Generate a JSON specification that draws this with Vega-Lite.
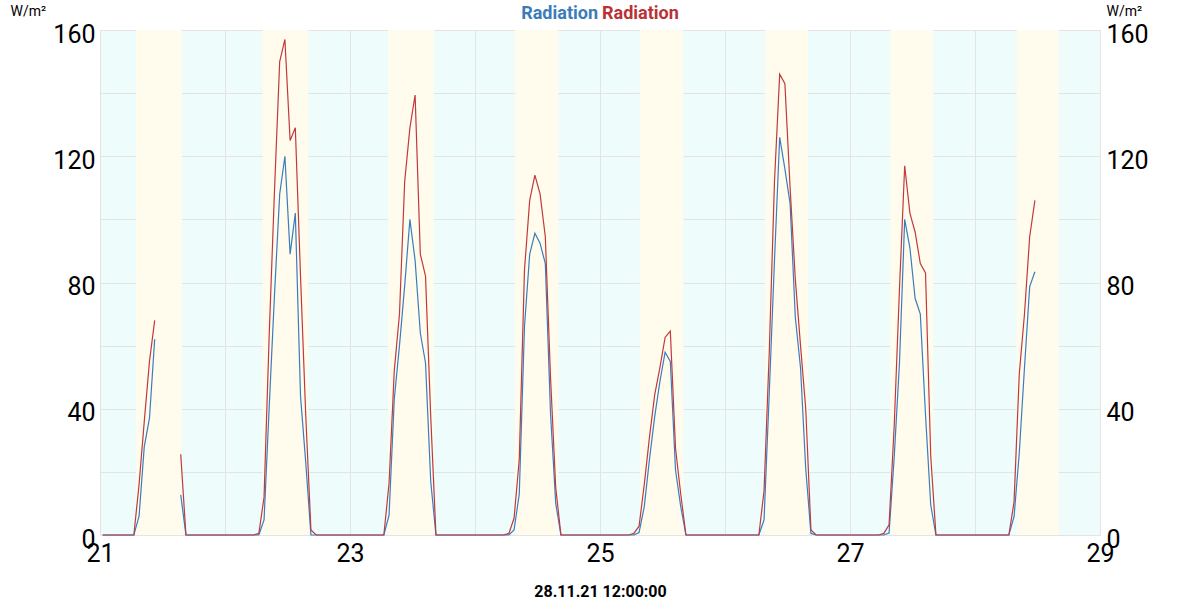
{
  "$schema": "https://vega.github.io/schema/vega-lite/v6.json",
  "width": 1000,
  "height": 505,
  "autosize": {"type": "none"},
  "padding": {"left": 100, "top": 30, "right": 100, "bottom": 65},
  "background": "white",
  "config": {
    "font": "Roboto",
    "view": {"stroke": null, "fill": "#eefcfc"},
    "axisX": {
      "format": "%d",
      "labelExpr": "date(datum.value) % 2 == 1 ? datum.label : ''",
      "grid": true, "gridColor": "#e4e4e4",
      "domain": false, "ticks": false,
      "labelFontSize": 25, "labelColor": "#000000", "labelPadding": 6,
      "labelFlush": false, "labelOverlap": false,
      "titleFontSize": 16, "titleFontWeight": "bold",
      "titleColor": "#000000", "titlePadding": 17
    }
  },
  "layer": [
    {
      "data": {"values": [
        {"rise": "2021-11-21T06:55", "set": "2021-11-21T15:45"},
        {"rise": "2021-11-22T07:15", "set": "2021-11-22T16:00"},
        {"rise": "2021-11-23T07:20", "set": "2021-11-23T16:05"},
        {"rise": "2021-11-24T07:40", "set": "2021-11-24T16:00"},
        {"rise": "2021-11-25T07:40", "set": "2021-11-25T16:00"},
        {"rise": "2021-11-26T07:40", "set": "2021-11-26T15:55"},
        {"rise": "2021-11-27T07:45", "set": "2021-11-27T16:00"},
        {"rise": "2021-11-28T08:00", "set": "2021-11-28T16:05"}
      ]},
      "mark": {"type": "rect", "color": "#fffcee"},
      "encoding": {
        "x": {
          "field": "rise", "type": "temporal",
          "scale": {"domain": [{"year": 2021, "month": 11, "date": 21}, {"year": 2021, "month": 11, "date": 29}]},
          "title": "28.11.21 12:00:00",
          "axis": {
            "values": [
              {"year": 2021, "month": 11, "date": 21}, {"year": 2021, "month": 11, "date": 22},
              {"year": 2021, "month": 11, "date": 23}, {"year": 2021, "month": 11, "date": 24},
              {"year": 2021, "month": 11, "date": 25}, {"year": 2021, "month": 11, "date": 26},
              {"year": 2021, "month": 11, "date": 27}, {"year": 2021, "month": 11, "date": 28},
              {"year": 2021, "month": 11, "date": 29}
            ]
          }
        },
        "x2": {"field": "set"}
      }
    },
    {
      "data": {"name": "rad"},
      "mark": {"type": "line", "color": "#3a7dbd", "strokeWidth": 1.2},
      "encoding": {
        "x": {"field": "t", "type": "temporal", "title": "28.11.21 12:00:00"},
        "y": {
          "field": "a", "type": "quantitative",
          "scale": {"domain": [0, 160]},
          "axis": {
            "orient": "left",
            "values": [0, 20, 40, 60, 80, 100, 120, 140, 160],
            "labelExpr": "datum.value % 40 == 0 ? datum.label : ''",
            "grid": true, "gridColor": "#e4e4e4",
            "domain": false, "ticks": false,
            "labelFontSize": 25, "labelColor": "#000000", "labelPadding": 5, "labelOffset": 4,
            "title": "W/m²", "titleAngle": 0, "titleFontSize": 14, "titleFontWeight": "normal",
            "titleColor": "#000000", "titleAlign": "left", "titleBaseline": "alphabetic",
            "titleX": -90, "titleY": -15
          }
        }
      }
    },
    {
      "data": {"name": "rad"},
      "mark": {"type": "line", "color": "#c0393e", "strokeWidth": 1.2},
      "encoding": {
        "x": {"field": "t", "type": "temporal", "title": "28.11.21 12:00:00"},
        "y": {
          "field": "b", "type": "quantitative",
          "axis": {
            "orient": "right",
            "values": [0, 20, 40, 60, 80, 100, 120, 140, 160],
            "labelExpr": "datum.value % 40 == 0 ? datum.label : ''",
            "grid": false,
            "domain": false, "ticks": false,
            "labelFontSize": 25, "labelColor": "#000000", "labelPadding": 6, "labelOffset": 4,
            "title": "W/m²", "titleAngle": 0, "titleFontSize": 14, "titleFontWeight": "normal",
            "titleColor": "#000000", "titleAlign": "left", "titleBaseline": "alphabetic",
            "titleX": 6, "titleY": -15
          }
        }
      }
    },
    {
      "data": {"values": [{"label": "Radiation"}]},
      "mark": {"type": "text", "color": "#3b7cb8", "fontSize": 18, "fontWeight": "bold", "align": "right", "baseline": "alphabetic", "dx": -2, "dy": -11},
      "encoding": {
        "x": {"datum": {"year": 2021, "month": 11, "date": 25}, "type": "temporal", "title": "28.11.21 12:00:00"},
        "y": {"datum": 160, "type": "quantitative", "axis": null},
        "text": {"field": "label"}
      }
    },
    {
      "data": {"values": [{"label": "Radiation"}]},
      "mark": {"type": "text", "color": "#b83236", "fontSize": 18, "fontWeight": "bold", "align": "left", "baseline": "alphabetic", "dx": 2, "dy": -11},
      "encoding": {
        "x": {"datum": {"year": 2021, "month": 11, "date": 25}, "type": "temporal", "title": "28.11.21 12:00:00"},
        "y": {"datum": 160, "type": "quantitative", "axis": null},
        "text": {"field": "label"}
      }
    }
  ],
  "resolve": {"axis": {"y": "independent"}},
  "datasets": {
    "rad": [
      {"t": "2021-11-21T00:30", "a": 0, "b": 0},
      {"t": "2021-11-21T01:30", "a": 0, "b": 0},
      {"t": "2021-11-21T02:30", "a": 0, "b": 0},
      {"t": "2021-11-21T03:30", "a": 0, "b": 0},
      {"t": "2021-11-21T04:30", "a": 0, "b": 0},
      {"t": "2021-11-21T05:30", "a": 0, "b": 0},
      {"t": "2021-11-21T06:30", "a": 0, "b": 0},
      {"t": "2021-11-21T07:30", "a": 6, "b": 16},
      {"t": "2021-11-21T08:30", "a": 28, "b": 36},
      {"t": "2021-11-21T09:30", "a": 37, "b": 55},
      {"t": "2021-11-21T10:30", "a": 62, "b": 68},
      {"t": "2021-11-21T11:30", "a": null, "b": null},
      {"t": "2021-11-21T12:30", "a": null, "b": null},
      {"t": "2021-11-21T13:30", "a": null, "b": null},
      {"t": "2021-11-21T14:30", "a": null, "b": null},
      {"t": "2021-11-21T15:30", "a": 12.7, "b": 25.6},
      {"t": "2021-11-21T16:30", "a": 0, "b": 0},
      {"t": "2021-11-21T17:30", "a": 0, "b": 0},
      {"t": "2021-11-21T18:30", "a": 0, "b": 0},
      {"t": "2021-11-21T19:30", "a": 0, "b": 0},
      {"t": "2021-11-21T20:30", "a": 0, "b": 0},
      {"t": "2021-11-21T21:30", "a": 0, "b": 0},
      {"t": "2021-11-21T22:30", "a": 0, "b": 0},
      {"t": "2021-11-21T23:30", "a": 0, "b": 0},
      {"t": "2021-11-22T00:30", "a": 0, "b": 0},
      {"t": "2021-11-22T01:30", "a": 0, "b": 0},
      {"t": "2021-11-22T02:30", "a": 0, "b": 0},
      {"t": "2021-11-22T03:30", "a": 0, "b": 0},
      {"t": "2021-11-22T04:30", "a": 0, "b": 0},
      {"t": "2021-11-22T05:30", "a": 0, "b": 0},
      {"t": "2021-11-22T06:30", "a": 0, "b": 0.5},
      {"t": "2021-11-22T07:30", "a": 4.8, "b": 12},
      {"t": "2021-11-22T08:30", "a": 41, "b": 64},
      {"t": "2021-11-22T09:30", "a": 76, "b": 109},
      {"t": "2021-11-22T10:30", "a": 108, "b": 150},
      {"t": "2021-11-22T11:30", "a": 120, "b": 157},
      {"t": "2021-11-22T12:30", "a": 89, "b": 125},
      {"t": "2021-11-22T13:30", "a": 102, "b": 129},
      {"t": "2021-11-22T14:30", "a": 44, "b": 82},
      {"t": "2021-11-22T15:30", "a": 23, "b": 38},
      {"t": "2021-11-22T16:30", "a": 0, "b": 1.6},
      {"t": "2021-11-22T17:30", "a": 0, "b": 0},
      {"t": "2021-11-22T18:30", "a": 0, "b": 0},
      {"t": "2021-11-22T19:30", "a": 0, "b": 0},
      {"t": "2021-11-22T20:30", "a": 0, "b": 0},
      {"t": "2021-11-22T21:30", "a": 0, "b": 0},
      {"t": "2021-11-22T22:30", "a": 0, "b": 0},
      {"t": "2021-11-22T23:30", "a": 0, "b": 0},
      {"t": "2021-11-23T00:30", "a": 0, "b": 0},
      {"t": "2021-11-23T01:30", "a": 0, "b": 0},
      {"t": "2021-11-23T02:30", "a": 0, "b": 0},
      {"t": "2021-11-23T03:30", "a": 0, "b": 0},
      {"t": "2021-11-23T04:30", "a": 0, "b": 0},
      {"t": "2021-11-23T05:30", "a": 0, "b": 0},
      {"t": "2021-11-23T06:30", "a": 0, "b": 0},
      {"t": "2021-11-23T07:30", "a": 6.3, "b": 16.4},
      {"t": "2021-11-23T08:30", "a": 43, "b": 52},
      {"t": "2021-11-23T09:30", "a": 60, "b": 70},
      {"t": "2021-11-23T10:30", "a": 79, "b": 112},
      {"t": "2021-11-23T11:30", "a": 100, "b": 129},
      {"t": "2021-11-23T12:30", "a": 87, "b": 139.4},
      {"t": "2021-11-23T13:30", "a": 64, "b": 89},
      {"t": "2021-11-23T14:30", "a": 54.5, "b": 82},
      {"t": "2021-11-23T15:30", "a": 17, "b": 37.5},
      {"t": "2021-11-23T16:30", "a": 0, "b": 0},
      {"t": "2021-11-23T17:30", "a": 0, "b": 0},
      {"t": "2021-11-23T18:30", "a": 0, "b": 0},
      {"t": "2021-11-23T19:30", "a": 0, "b": 0},
      {"t": "2021-11-23T20:30", "a": 0, "b": 0},
      {"t": "2021-11-23T21:30", "a": 0, "b": 0},
      {"t": "2021-11-23T22:30", "a": 0, "b": 0},
      {"t": "2021-11-23T23:30", "a": 0, "b": 0},
      {"t": "2021-11-24T00:30", "a": 0, "b": 0},
      {"t": "2021-11-24T01:30", "a": 0, "b": 0},
      {"t": "2021-11-24T02:30", "a": 0, "b": 0},
      {"t": "2021-11-24T03:30", "a": 0, "b": 0},
      {"t": "2021-11-24T04:30", "a": 0, "b": 0},
      {"t": "2021-11-24T05:30", "a": 0, "b": 0},
      {"t": "2021-11-24T06:30", "a": 0, "b": 0.5},
      {"t": "2021-11-24T07:30", "a": 1.6, "b": 5.3},
      {"t": "2021-11-24T08:30", "a": 13, "b": 24},
      {"t": "2021-11-24T09:30", "a": 66, "b": 84},
      {"t": "2021-11-24T10:30", "a": 89, "b": 106},
      {"t": "2021-11-24T11:30", "a": 95.6, "b": 114},
      {"t": "2021-11-24T12:30", "a": 92.4, "b": 108},
      {"t": "2021-11-24T13:30", "a": 86, "b": 94.5},
      {"t": "2021-11-24T14:30", "a": 38.6, "b": 50},
      {"t": "2021-11-24T15:30", "a": 10, "b": 15},
      {"t": "2021-11-24T16:30", "a": 0, "b": 0},
      {"t": "2021-11-24T17:30", "a": 0, "b": 0},
      {"t": "2021-11-24T18:30", "a": 0, "b": 0},
      {"t": "2021-11-24T19:30", "a": 0, "b": 0},
      {"t": "2021-11-24T20:30", "a": 0, "b": 0},
      {"t": "2021-11-24T21:30", "a": 0, "b": 0},
      {"t": "2021-11-24T22:30", "a": 0, "b": 0},
      {"t": "2021-11-24T23:30", "a": 0, "b": 0},
      {"t": "2021-11-25T00:30", "a": 0, "b": 0},
      {"t": "2021-11-25T01:30", "a": 0, "b": 0},
      {"t": "2021-11-25T02:30", "a": 0, "b": 0},
      {"t": "2021-11-25T03:30", "a": 0, "b": 0},
      {"t": "2021-11-25T04:30", "a": 0, "b": 0},
      {"t": "2021-11-25T05:30", "a": 0, "b": 0},
      {"t": "2021-11-25T06:30", "a": 0, "b": 0.5},
      {"t": "2021-11-25T07:30", "a": 0.8, "b": 2.8},
      {"t": "2021-11-25T08:30", "a": 9, "b": 16},
      {"t": "2021-11-25T09:30", "a": 24, "b": 31},
      {"t": "2021-11-25T10:30", "a": 37.5, "b": 44.4},
      {"t": "2021-11-25T11:30", "a": 48.6, "b": 53},
      {"t": "2021-11-25T12:30", "a": 57.9, "b": 62.6},
      {"t": "2021-11-25T13:30", "a": 55, "b": 64.6},
      {"t": "2021-11-25T14:30", "a": 20.6, "b": 27.5},
      {"t": "2021-11-25T15:30", "a": 9, "b": 13},
      {"t": "2021-11-25T16:30", "a": 0, "b": 0},
      {"t": "2021-11-25T17:30", "a": 0, "b": 0},
      {"t": "2021-11-25T18:30", "a": 0, "b": 0},
      {"t": "2021-11-25T19:30", "a": 0, "b": 0},
      {"t": "2021-11-25T20:30", "a": 0, "b": 0},
      {"t": "2021-11-25T21:30", "a": 0, "b": 0},
      {"t": "2021-11-25T22:30", "a": 0, "b": 0},
      {"t": "2021-11-25T23:30", "a": 0, "b": 0},
      {"t": "2021-11-26T00:30", "a": 0, "b": 0},
      {"t": "2021-11-26T01:30", "a": 0, "b": 0},
      {"t": "2021-11-26T02:30", "a": 0, "b": 0},
      {"t": "2021-11-26T03:30", "a": 0, "b": 0},
      {"t": "2021-11-26T04:30", "a": 0, "b": 0},
      {"t": "2021-11-26T05:30", "a": 0, "b": 0},
      {"t": "2021-11-26T06:30", "a": 0, "b": 0},
      {"t": "2021-11-26T07:30", "a": 4.8, "b": 14},
      {"t": "2021-11-26T08:30", "a": 45, "b": 58},
      {"t": "2021-11-26T09:30", "a": 87, "b": 112},
      {"t": "2021-11-26T10:30", "a": 126, "b": 146},
      {"t": "2021-11-26T11:30", "a": 116, "b": 143},
      {"t": "2021-11-26T12:30", "a": 105, "b": 110},
      {"t": "2021-11-26T13:30", "a": 69, "b": 81},
      {"t": "2021-11-26T14:30", "a": 53, "b": 60},
      {"t": "2021-11-26T15:30", "a": 21, "b": 40},
      {"t": "2021-11-26T16:30", "a": 0.5, "b": 1.6},
      {"t": "2021-11-26T17:30", "a": 0, "b": 0},
      {"t": "2021-11-26T18:30", "a": 0, "b": 0},
      {"t": "2021-11-26T19:30", "a": 0, "b": 0},
      {"t": "2021-11-26T20:30", "a": 0, "b": 0},
      {"t": "2021-11-26T21:30", "a": 0, "b": 0},
      {"t": "2021-11-26T22:30", "a": 0, "b": 0},
      {"t": "2021-11-26T23:30", "a": 0, "b": 0},
      {"t": "2021-11-27T00:30", "a": 0, "b": 0},
      {"t": "2021-11-27T01:30", "a": 0, "b": 0},
      {"t": "2021-11-27T02:30", "a": 0, "b": 0},
      {"t": "2021-11-27T03:30", "a": 0, "b": 0},
      {"t": "2021-11-27T04:30", "a": 0, "b": 0},
      {"t": "2021-11-27T05:30", "a": 0, "b": 0},
      {"t": "2021-11-27T06:30", "a": 0, "b": 0.5},
      {"t": "2021-11-27T07:30", "a": 0.6, "b": 3.2},
      {"t": "2021-11-27T08:30", "a": 25, "b": 35},
      {"t": "2021-11-27T09:30", "a": 54.5, "b": 78},
      {"t": "2021-11-27T10:30", "a": 100, "b": 117},
      {"t": "2021-11-27T11:30", "a": 91, "b": 102},
      {"t": "2021-11-27T12:30", "a": 75, "b": 96},
      {"t": "2021-11-27T13:30", "a": 70, "b": 86},
      {"t": "2021-11-27T14:30", "a": 38, "b": 83},
      {"t": "2021-11-27T15:30", "a": 9.5, "b": 25},
      {"t": "2021-11-27T16:30", "a": 0, "b": 0},
      {"t": "2021-11-27T17:30", "a": 0, "b": 0},
      {"t": "2021-11-27T18:30", "a": 0, "b": 0},
      {"t": "2021-11-27T19:30", "a": 0, "b": 0},
      {"t": "2021-11-27T20:30", "a": 0, "b": 0},
      {"t": "2021-11-27T21:30", "a": 0, "b": 0},
      {"t": "2021-11-27T22:30", "a": 0, "b": 0},
      {"t": "2021-11-27T23:30", "a": 0, "b": 0},
      {"t": "2021-11-28T00:30", "a": 0, "b": 0},
      {"t": "2021-11-28T01:30", "a": 0, "b": 0},
      {"t": "2021-11-28T02:30", "a": 0, "b": 0},
      {"t": "2021-11-28T03:30", "a": 0, "b": 0},
      {"t": "2021-11-28T04:30", "a": 0, "b": 0},
      {"t": "2021-11-28T05:30", "a": 0, "b": 0},
      {"t": "2021-11-28T06:30", "a": 0, "b": 0},
      {"t": "2021-11-28T07:30", "a": 5.8, "b": 10.5},
      {"t": "2021-11-28T08:30", "a": 26, "b": 51},
      {"t": "2021-11-28T09:30", "a": 53, "b": 70},
      {"t": "2021-11-28T10:30", "a": 78.7, "b": 94.5},
      {"t": "2021-11-28T11:30", "a": 83.4, "b": 106}
    ]
  }
}
